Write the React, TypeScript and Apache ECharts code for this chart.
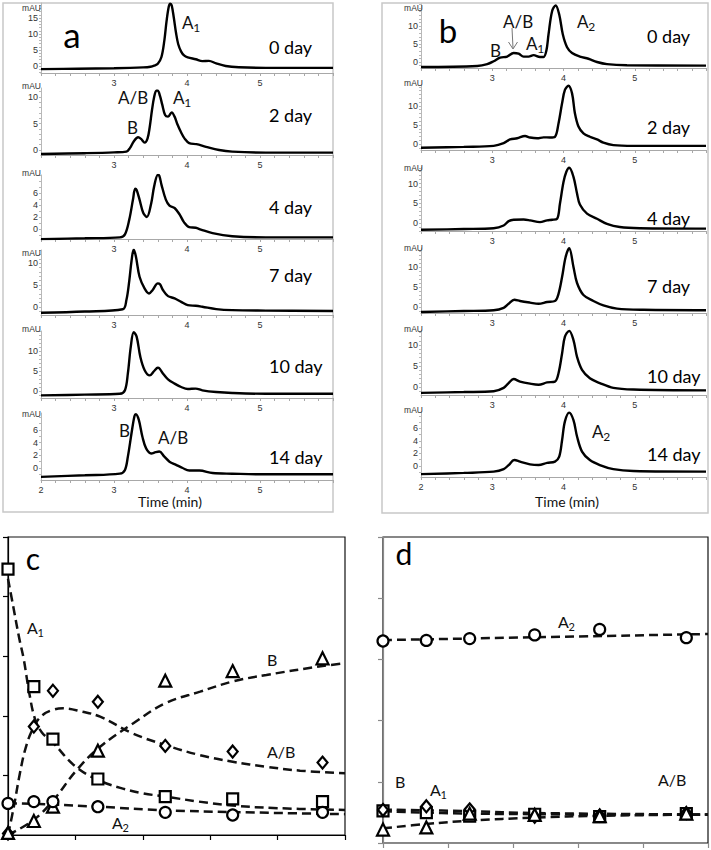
import React, { useEffect, useRef } from "react";
import * as echarts from "echarts";

// ---------- DATA ----------
const dayLabels = ["0 day", "2 day", "4 day", "7 day", "10 day", "14 day"];
const xLabelsUpper = [3, 4, 5];
const xLabelsBottom = [2, 3, 4, 5];
const yLabelsA = [[0, 5, 10, 15], [0, 5, 10], [0, 2, 4, 6], [0, 5, 10], [0, 5, 10], [0, 2, 4, 6]];
const yLabelsB = [[0, 5, 10], [0, 5, 10], [0, 5, 10], [0, 5, 10], [0, 5, 10], [0, 2, 4, 6]];

// panel a chromatograms [time (min), mAU]
const chromA0 = [[2.0,-1.0],[2.5,-0.85],[3.0,-0.7],[3.4,-0.45],[3.5,-0.25],[3.55,0.1],[3.6,0.7],[3.65,2.8],[3.69,8],[3.72,14],[3.75,18.5],[3.77,19.5],[3.79,19],[3.82,15],[3.85,10.3],[3.88,6.8],[3.92,4.5],[3.96,3.3],[4.01,2.7],[4.12,2.1],[4.21,1.5],[4.3,1.6],[4.4,0.8],[4.53,0],[4.71,-0.4],[5.08,-0.6],[6.0,-0.6]];
const chromA2 = [[2.0,-0.75],[2.6,-0.6],[3.0,-0.45],[3.17,-0.3],[3.22,0.4],[3.27,1.6],[3.33,2.4],[3.37,2.1],[3.42,1.4],[3.46,2.2],[3.49,4.4],[3.52,7.5],[3.55,10],[3.58,11.2],[3.6,11.2],[3.63,10.2],[3.66,8.6],[3.7,6.6],[3.74,6.3],[3.79,7.1],[3.83,6.3],[3.87,4.8],[3.92,3.3],[3.97,2.1],[4.03,1.3],[4.13,1.1],[4.26,0.6],[4.44,0],[4.62,-0.3],[5.08,-0.5],[6.0,-0.5]];
const chromA4 = [[2.0,-1.7],[2.6,-1.55],[3.08,-1.4],[3.15,-0.9],[3.21,1.6],[3.26,4.9],[3.29,6.7],[3.31,6.5],[3.35,4.9],[3.4,2.7],[3.45,2.0],[3.51,4.3],[3.55,7.1],[3.6,9.0],[3.62,8.9],[3.65,7.4],[3.71,4.9],[3.76,3.9],[3.83,3.5],[3.9,2.4],[3.96,1.1],[4.03,0.3],[4.12,0.2],[4.19,-0.1],[4.35,-0.7],[4.62,-1.2],[5.08,-1.4],[6.0,-1.4]];
const chromA7 = [[2.0,-1.3],[2.6,-1.0],[3.12,-0.5],[3.17,1.6],[3.21,6.1],[3.24,10.5],[3.27,13.1],[3.3,11.5],[3.35,6.9],[3.42,4.2],[3.48,3.1],[3.53,3.9],[3.6,5.4],[3.63,5.2],[3.67,3.9],[3.74,2.5],[3.83,2.0],[3.92,1.2],[4.01,0.45],[4.12,0.3],[4.21,0.08],[4.4,-0.45],[4.62,-0.7],[5.08,-0.8],[6.0,-0.9]];
const chromA10 = [[2.0,-1.1],[2.6,-0.9],[3.08,-0.7],[3.15,0.2],[3.19,4.4],[3.23,11.1],[3.27,14.7],[3.31,13.6],[3.36,8.6],[3.42,5.2],[3.49,3.9],[3.55,5.0],[3.6,5.8],[3.62,5.7],[3.67,4.4],[3.74,2.9],[3.83,1.85],[3.92,1.0],[4.01,0.5],[4.12,0.6],[4.21,0.17],[4.4,-0.25],[4.62,-0.5],[5.08,-0.7],[6.0,-0.7]];
const chromA14 = [[2.0,-1.4],[2.6,-1.15],[3.08,-0.9],[3.15,-0.3],[3.19,1.8],[3.24,5.5],[3.28,8.2],[3.3,8.5],[3.34,7.6],[3.39,4.9],[3.44,3.1],[3.51,2.3],[3.57,2.5],[3.62,2.6],[3.69,1.8],[3.76,1.0],[3.85,0.5],[3.94,0],[4.03,-0.4],[4.17,-0.4],[4.35,-0.8],[4.62,-0.9],[5.08,-1.0],[6.0,-1.0]];

// panel b chromatograms
const chromB0 = [[2.0,-1.4],[2.79,-1.1],[2.93,-0.6],[3.02,0.2],[3.11,1.2],[3.21,1.5],[3.3,2.5],[3.37,2.3],[3.44,1.5],[3.51,1.5],[3.58,1.9],[3.67,1.4],[3.72,1.4],[3.76,3.2],[3.79,7.7],[3.84,14.1],[3.89,15.7],[3.94,13.2],[3.99,7.7],[4.05,4.1],[4.12,2.5],[4.23,1.5],[4.35,0.9],[4.47,0],[4.61,-0.6],[4.89,-0.9],[6.0,-1.0]];
const chromB2 = [[2.0,-1.0],[2.6,-0.75],[3.02,-0.5],[3.16,0.2],[3.25,1.2],[3.35,1.5],[3.46,2.1],[3.53,1.7],[3.63,1.5],[3.72,1.75],[3.81,1.7],[3.88,1.9],[3.93,5.4],[3.98,10.7],[4.02,14.2],[4.07,15.3],[4.12,13.3],[4.16,8.1],[4.21,4.6],[4.28,2.8],[4.37,1.9],[4.47,1.2],[4.56,0.35],[4.7,-0.3],[4.98,-0.5],[6.0,-0.5]];
const chromB4 = [[2.0,-1.7],[2.6,-1.5],[3.02,-1.3],[3.16,-0.6],[3.23,0.5],[3.3,0.85],[3.44,0.9],[3.53,0.7],[3.67,0.25],[3.77,0.7],[3.84,0.85],[3.91,1.1],[3.95,4.9],[4.0,10.4],[4.04,13],[4.08,14.0],[4.14,11.7],[4.19,7.5],[4.23,4.7],[4.33,2.4],[4.47,1.1],[4.61,-0.2],[4.79,-1.0],[5.07,-1.3],[6.0,-1.4]];
const chromB7 = [[2.0,-1.25],[2.6,-1.0],[3.02,-0.8],[3.16,-0.2],[3.23,0.8],[3.31,1.8],[3.39,1.5],[3.53,1.1],[3.65,0.8],[3.77,1.25],[3.88,1.5],[3.93,3.3],[3.98,7.5],[4.03,12.5],[4.08,14.7],[4.14,10],[4.19,6],[4.28,3.0],[4.42,1.5],[4.56,0.4],[4.75,-0.4],[5.12,-0.7],[6.0,-0.8]];
const chromB10 = [[2.0,-1.4],[2.6,-1.2],[3.02,-1.0],[3.16,-0.2],[3.23,0.95],[3.3,1.9],[3.39,1.3],[3.53,0.8],[3.65,0.55],[3.77,1.1],[3.88,1.3],[3.93,3.3],[3.98,8.0],[4.02,12.0],[4.08,13.4],[4.14,11.2],[4.19,7.2],[4.26,4.1],[4.37,2.1],[4.51,0.95],[4.7,-0.2],[4.98,-0.6],[6.0,-0.8]];
const chromB14 = [[2.0,-1.3],[2.6,-1.1],[3.02,-0.9],[3.16,-0.5],[3.23,0.15],[3.31,0.95],[3.39,0.7],[3.53,0.27],[3.65,0.15],[3.77,0.5],[3.88,0.7],[3.94,1.5],[3.98,4.1],[4.02,7.1],[4.08,8.5],[4.14,7.3],[4.19,4.7],[4.26,2.3],[4.37,0.95],[4.51,0.15],[4.7,-0.5],[4.98,-0.8],[6.0,-0.9]];

// panel c: relative amounts vs storage days
const daysC = [0, 1.15, 2, 4, 7, 10, 14];
const a1C = [89.2, 49.8, 32.2, 18.8, 12.9, 12.1, 11.2];
const abC = [0.5, 36.4, 48.4, 44.7, 29.9, 28.0, 24.3];
const bC = [0.7, 4.7, 9.5, 28.3, 51.8, 55.0, 59.3];
const a2C = [10.6, 11.2, 11.2, 9.5, 7.6, 6.7, 7.6];
const fitA1C = [[0,86],[0.25,76],[0.5,66],[0.7,59],[0.95,47.5],[1.2,39],[1.5,34.5],[2,31],[3,23],[4,18.5],[5,15.8],[6,14],[7,12.9],[8.5,11.2],[10,9.9],[12,9],[15,8.4]];
const fitABC = [[0,0],[0.26,9.5],[0.53,20.7],[0.8,29.6],[1.13,36],[1.5,40],[2,42],[2.46,42.5],[3.3,41.4],[4.1,39.7],[5.58,34],[7,30.2],[8.55,26.8],[10,24.6],[11.5,22.9],[13,21.6],[15,20.7]];
const fitBC = [[0,0],[1.13,5],[2.02,11.7],[3.06,21.8],[4.1,29.6],[5.58,37.5],[7,44.2],[8.55,48.1],[10,51.5],[11.5,53.7],[14,56.7],[15,57.6]];
const fitA2C = [[0,10.7],[2,10.2],[4,9.5],[7,8.3],[10,7.7],[15,7.0]];

// panel d
const daysD = [0, 2, 4, 7, 10, 14];
const a2D = [66.0, 66.2, 66.8, 68.0, 69.8, 67.1];
const a1D = [10.5, 9.9, 8.8, 9.4, 8.6, 9.6];
const abD = [10.8, 12.0, 11.0, 8.6, 9.0, 9.8];
const bD = [4.4, 5.1, 9.6, 9.2, 8.8, 9.6];
const fitA2D = [[0,66.3],[15,68.3]];
const fitA1D = [[0,10.4],[4,9.6],[15,9.2]];
const fitABD = [[0,10.9],[4,10.4],[7,9.8],[15,9.3]];
const fitBD = [[0,4.8],[2,6.2],[4,7.3],[7,8.3],[10,8.9],[15,9.3]];

// ---------- LAYOUT ----------
const chromA = [chromA0, chromA2, chromA4, chromA7, chromA10, chromA14];
const chromB = [chromB0, chromB2, chromB4, chromB7, chromB10, chromB14];
const rowsA = [
  { top: 3, axis: 73, min: -2.2, max: 19.7, mau: 8, day: 47 },
  { top: 88, axis: 155, min: -0.94, max: 11.7, mau: 86, day: 115 },
  { top: 175, axis: 239, min: -1.67, max: 9.0, mau: 173, day: 207 },
  { top: 250, axis: 315, min: -1.8, max: 13.0, mau: 253, day: 275 },
  { top: 331, axis: 398, min: -1.75, max: 15.0, mau: 329, day: 366 },
  { top: 413, axis: 480, min: -1.9, max: 8.7, mau: 414, day: 457 },
];
const rowsB = [
  { top: 4, axis: 68, min: -1.67, max: 16.1, mau: 8, day: 36 },
  { top: 85, axis: 150, min: -1.58, max: 15.5, mau: 83, day: 127 },
  { top: 167, axis: 231, min: -2.0, max: 14.2, mau: 168, day: 218 },
  { top: 248, axis: 313, min: -1.5, max: 14.75, mau: 248, day: 286 },
  { top: 330, axis: 395, min: -1.9, max: 13.6, mau: 329, day: 376 },
  { top: 412, axis: 477, min: -1.75, max: 8.6, mau: 410, day: 454 },
];

const LAB = "Lato, 'Noto Sans', sans-serif";
const SMALL = "'Liberation Sans', Arial, sans-serif";

function intTicks(min: number, max: number) {
  const r: number[] = [];
  for (let v = Math.ceil(min); v <= Math.floor(max); v++) r.push(v);
  return r;
}
function timeTicks() {
  const r: number[] = [];
  for (let i = 0; i <= 20; i++) r.push(Math.round((2 + i * 0.2) * 10) / 10);
  return r;
}

function buildOption() {
  const grid: any[] = [];
  const xAxis: any[] = [];
  const yAxis: any[] = [];
  const series: any[] = [];
  const graphic: any[] = [];
  const gray = "#a8a8a8";

  const addPanel = (rows: any[], data: number[][][], yLabels: number[][], left: number, width: number, mauX: number, dayX: number) => {
    rows.forEach((r, k) => {
      const gi = grid.length;
      grid.push({ left, top: r.top, width, height: r.axis - r.top });
      xAxis.push({
        gridIndex: gi, type: "value", min: 2, max: 6, interval: 1,
        axisLine: { onZero: false, lineStyle: { color: gray, width: 1 } },
        axisTick: { customValues: timeTicks(), length: 3, lineStyle: { color: gray } },
        axisLabel: { customValues: k === 5 ? xLabelsBottom : xLabelsUpper, fontSize: 9, color: "#333", margin: 5, fontFamily: SMALL },
        splitLine: { show: false },
      });
      yAxis.push({
        gridIndex: gi, type: "value", min: r.min, max: r.max,
        axisLine: { show: true, lineStyle: { color: "#b8b8b8", width: 1 } },
        axisTick: { show: true, customValues: intTicks(r.min, r.max), length: 2, lineStyle: { color: "#b8b8b8" } },
        axisLabel: { customValues: yLabels[k], fontSize: 9, color: "#333", margin: 3, fontFamily: SMALL },
        splitLine: { show: false },
      });
      series.push({
        type: "line", xAxisIndex: gi, yAxisIndex: gi, data: data[k],
        showSymbol: false, symbol: "none", smooth: 0.35,
        lineStyle: { color: "#000", width: 2.4 }, z: 3, silent: true,
      });
      graphic.push(txt("mAU", mauX, r.mau, 8.5, "right", SMALL, "#333"));
      graphic.push(txt(dayLabels[k], dayX, r.day, 18, "left", LAB, "#000"));
    });
  };

  addPanel(rowsA, chromA, yLabelsA, 41, 292, 41, 269);
  addPanel(rowsB, chromB, yLabelsB, 421, 285, 423, 647);

  // panel c and d
  const scatterPanels = [
    { left: 8, top: 537, width: 337, height: 298, axisColor: "#000", tickColor: "#000",
      sets: [[daysC, a1C, "rect"], [daysC, abC, "diamond"], [daysC, bC, "triangle"], [daysC, a2C, "circle"]],
      fits: [fitA1C, fitABC, fitBC, fitA2C] },
    { left: 383, top: 537, width: 325, height: 306, axisColor: "#8a8a8a", tickColor: "#8a8a8a",
      sets: [[daysD, a2D, "circle"], [daysD, a1D, "rect"], [daysD, abD, "diamond"], [daysD, bD, "triangle"]],
      fits: [fitA2D, fitA1D, fitABD, fitBD] },
  ];
  scatterPanels.forEach((p) => {
    const gi = grid.length;
    grid.push({ left: p.left, top: p.top, width: p.width, height: p.height, show: true, borderColor: "#111", borderWidth: 1.2, backgroundColor: "transparent" });
    xAxis.push({
      gridIndex: gi, type: "value", min: 0, max: 15, interval: 3,
      axisLine: { onZero: false, lineStyle: { color: p.axisColor, width: 1.2 } },
      axisTick: { show: true, length: 5, lineStyle: { color: p.tickColor, width: 1.2 } },
      axisLabel: { show: false }, splitLine: { show: false },
    });
    yAxis.push({
      gridIndex: gi, type: "value", min: 0, max: 100, interval: 20,
      axisLine: { show: true, lineStyle: { color: p.axisColor, width: 1.2 } },
      axisTick: { show: true, length: 5, lineStyle: { color: p.tickColor, width: 1.2 } },
      axisLabel: { show: false }, splitLine: { show: false },
    });
    p.fits.forEach((f) => {
      series.push({
        type: "line", xAxisIndex: gi, yAxisIndex: gi, data: f, showSymbol: false, symbol: "none",
        smooth: 0.4, lineStyle: { color: "#111", width: 2.5, type: [9, 5] }, z: 2, silent: true,
      });
    });
    p.sets.forEach((s: any) => {
      const xs = s[0] as number[];
      const ys = s[1] as number[];
      series.push({
        type: "scatter", xAxisIndex: gi, yAxisIndex: gi,
        data: xs.map((x, i) => [x, ys[i]]),
        symbol: s[2], symbolSize: s[2] === "diamond" ? [10, 12] : s[2] === "triangle" ? 12 : 11,
        itemStyle: { color: "#fff", borderColor: "#000", borderWidth: 2.2, opacity: 1 },
        z: 4, silent: true,
      });
    });
  });

  // frames
  graphic.push({ type: "rect", shape: { x: 3, y: 3, width: 330, height: 509 }, style: { fill: "none", stroke: "#c8c8c8", lineWidth: 1.5 }, z: 0 });
  graphic.push({ type: "rect", shape: { x: 382, y: 3, width: 326, height: 510 }, style: { fill: "none", stroke: "#c8c8c8", lineWidth: 1.5 }, z: 0 });

  // panel letters
  graphic.push(txt("a", 72, 34, 35, "center", LAB, "#000"));
  graphic.push(txt("b", 448, 30, 33, "center", LAB, "#000"));
  graphic.push(txt("c", 33, 558, 30, "center", LAB, "#000"));
  graphic.push(txt("d", 404, 553, 30, "center", LAB, "#000"));

  // time axis titles
  graphic.push(txt("Time (min)", 170, 501, 14, "center", LAB));
  graphic.push(txt("Time (min)", 567, 501, 14, "center", LAB));

  // peak labels panel a
  sub(graphic, "A", "1", 182, 22, 17);
  graphic.push(txt("A/B", 118, 97, 17, "left", LAB));
  sub(graphic, "A", "1", 173, 97, 17);
  graphic.push(txt("B", 127, 127, 17, "left", LAB));
  graphic.push(txt("B", 119, 430, 17, "left", LAB));
  graphic.push(txt("A/B", 158, 437, 17, "left", LAB));

  // peak labels panel b
  graphic.push(txt("A/B", 503, 21, 17, "left", LAB));
  graphic.push(txt("B", 490, 50, 17, "left", LAB));
  sub(graphic, "A", "1", 526, 43, 17);
  sub(graphic, "A", "2", 577, 21, 17);
  sub(graphic, "A", "2", 592, 431, 17);
  graphic.push({ type: "line", shape: { x1: 512, y1: 28, x2: 513, y2: 48 }, style: { stroke: "#777", lineWidth: 1 }, z: 10 });
  graphic.push({ type: "polyline", shape: { points: [[508.5, 42], [513, 49], [517.5, 42]] }, style: { stroke: "#777", lineWidth: 1, fill: "none" }, z: 10 });

  // labels panel c
  sub(graphic, "A", "1", 27, 627, 16);
  graphic.push(txt("B", 267, 659, 16, "left", LAB));
  graphic.push(txt("A/B", 267, 751, 16, "left", LAB));
  sub(graphic, "A", "2", 112, 822, 16);

  // labels panel d
  sub(graphic, "A", "2", 558, 621, 16);
  graphic.push(txt("B", 395, 781, 16, "left", LAB));
  sub(graphic, "A", "1", 430, 789, 16);
  graphic.push(txt("A/B", 658, 779, 16, "left", LAB));

  return {
    animation: false,
    backgroundColor: "#fff",
    grid, xAxis, yAxis, series, graphic,
  };
}

function txt(text: string, x: number, y: number, size: number, align: string, family: string, color = "#111") {
  return {
    type: "text", z: 20,
    style: {
      text, x, y, fill: color,
      font: `${size}px ${family}`,
      textAlign: align, align, textVerticalAlign: "middle", verticalAlign: "middle",
    },
  };
}
function sub(arr: any[], main: string, s: string, x: number, y: number, size: number) {
  arr.push(txt(main, x, y, size, "left", LAB));
  arr.push(txt(s, x + size * 0.66, y + size * 0.33, Math.round(size * 0.68), "left", LAB));
}

export default function App() {
  const ref = useRef<HTMLDivElement>(null);
  useEffect(() => {
    document.body.style.margin = "0";
    const chart = echarts.init(ref.current!, undefined, { renderer: "svg" });
    chart.setOption(buildOption() as any);
    return () => chart.dispose();
  }, []);
  return <div ref={ref} style={{ position: "absolute", left: 0, top: 0, width: 711, height: 850, background: "#fff" }} />;
}
